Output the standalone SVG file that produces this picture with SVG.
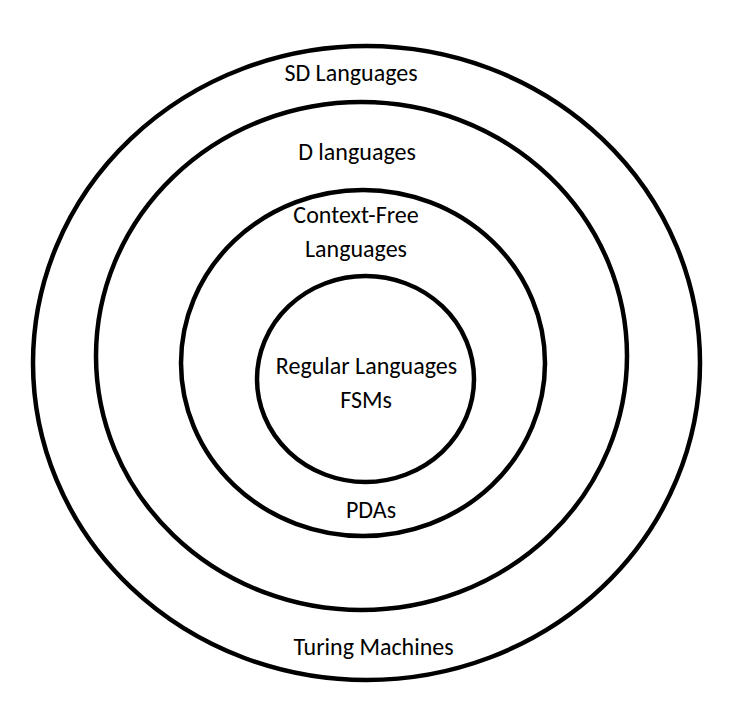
<svg xmlns="http://www.w3.org/2000/svg" width="741" height="717" viewBox="0 0 741 717">
<style>
.ring{fill:none;stroke:#000;stroke-width:4.5}
.lbl{font-family:Carlito,"Open Sans","Liberation Sans",sans-serif;font-size:24px;fill:#000;text-anchor:middle}
</style>
<rect width="741" height="717" fill="#fff"/>
<g id="sd">
<ellipse class="ring" cx="366.5" cy="363" rx="333.5" ry="317"/>
<text class="lbl" x="351" y="81">SD Languages</text>
<text class="lbl" x="373.5" y="655">Turing Machines</text>
</g>
<g id="d">
<ellipse class="ring" cx="361.5" cy="356" rx="265.5" ry="254"/>
<text class="lbl" x="357" y="160">D languages</text>
</g>
<g id="cf">
<ellipse class="ring" cx="363" cy="363" rx="182" ry="173"/>
<text class="lbl" x="356" y="223">Context-Free</text>
<text class="lbl" x="356" y="257">Languages</text>
<text class="lbl" x="371" y="518">PDAs</text>
</g>
<g id="reg">
<ellipse class="ring" cx="365.5" cy="379" rx="108.5" ry="103"/>
<text class="lbl" x="366.5" y="374">Regular Languages</text>
<text class="lbl" x="366" y="408">FSMs</text>
</g>
<g id="connectors"/>
</svg>
